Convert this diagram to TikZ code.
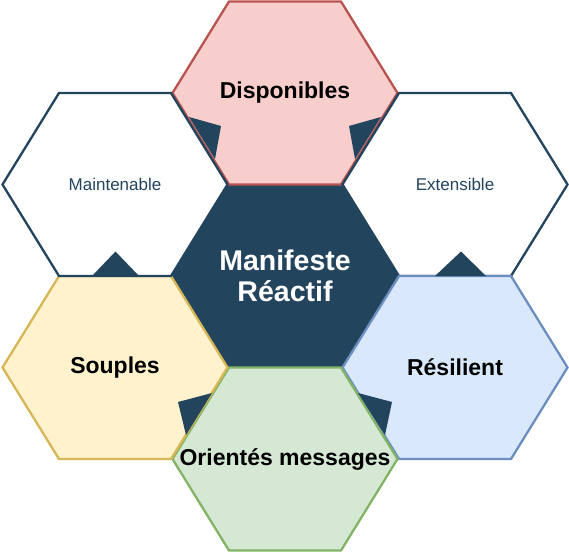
\documentclass[tikz,border=0pt]{standalone}
\usepackage{fontspec}
\setmainfont{Liberation Sans}
\definecolor{reactcolor}{HTML}{23445D}
\definecolor{dispfill}{HTML}{F8CECC}
\definecolor{displine}{HTML}{B85450}
\definecolor{soupfill}{HTML}{FFF2CC}
\definecolor{soupline}{HTML}{D6B656}
\definecolor{resfill}{HTML}{DAE8FC}
\definecolor{resline}{HTML}{6C8EBF}
\definecolor{msgfill}{HTML}{D5E8D4}
\definecolor{msgline}{HTML}{82B366}

% hexagon around a centre coordinate
\newcommand{\hexpath}[1]{(#1) ++(-112.5,0) -- ++(56.5,-91.5) -- ++(112,0) -- ++(56.5,91.5) -- ++(-56.5,91.5) -- ++(-112,0) -- cycle}

\begin{document}
\begin{tikzpicture}[
    x=1pt, y=-1pt,
    hex/.style={line width=2.3pt, line join=miter},
    notch/.style={fill=reactcolor, draw=none},
    title/.style={font=\bfseries\fontsize{23}{27}\selectfont, text=black},
    value/.style={font=\fontsize{17}{20}\selectfont, text=reactcolor}
]
    \useasboundingbox (0,0) rectangle (569,553);

    % Hexagon centres
    \coordinate (ccore) at (285,276);
    \coordinate (cdisp) at (285,93);
    \coordinate (cmaint) at (115,184.5);
    \coordinate (cext) at (455,184.5);
    \coordinate (csoup) at (115,367.5);
    \coordinate (cres) at (455,367.5);
    \coordinate (cmsg) at (285,459);

    % Hexagons
    \draw[hex, draw=reactcolor, fill=reactcolor] \hexpath{ccore};
    \draw[hex, draw=displine, fill=dispfill] \hexpath{cdisp};
    \draw[hex, draw=reactcolor, fill=white] \hexpath{cext};
    \draw[hex, draw=resline, fill=resfill] \hexpath{cres};
    \draw[hex, draw=msgline, fill=msgfill] \hexpath{cmsg};
    \draw[hex, draw=soupline, fill=soupfill] \hexpath{csoup};
    \draw[hex, draw=reactcolor, fill=white] \hexpath{cmaint};

    % Notches
    \fill[notch] (189,117) -- (221,126) -- (215,159) -- cycle;
    \fill[notch] (381,117) -- (349,126) -- (355,159) -- cycle;
    \fill[notch] (92,276) -- (115.5,251.5) -- (139,276) -- cycle;
    \fill[notch] (435,276) -- (461,251.5) -- (486,276) -- cycle;
    \fill[notch] (178,402) -- (212,393) -- (186,435) -- cycle;
    \fill[notch] (392,402) -- (358,393) -- (385,435) -- cycle;

    % Labels
    \node[font=\bfseries\fontsize{28.5}{31}\selectfont, text=white, align=center] (core) at (ccore) {Manifeste\\Réactif};
    \node[title] (disp) at (cdisp) {Disponibles};
    \node[value] (maint) at (cmaint) {Maintenable};
    \node[value] (ext) at (cext) {Extensible};
    \node[title] (soup) at (csoup) {Souples};
    \node[title] (res) at (cres) {Résilient};
    \node[title] (msg) at (cmsg) {Orientés messages};
\end{tikzpicture}
\end{document}
